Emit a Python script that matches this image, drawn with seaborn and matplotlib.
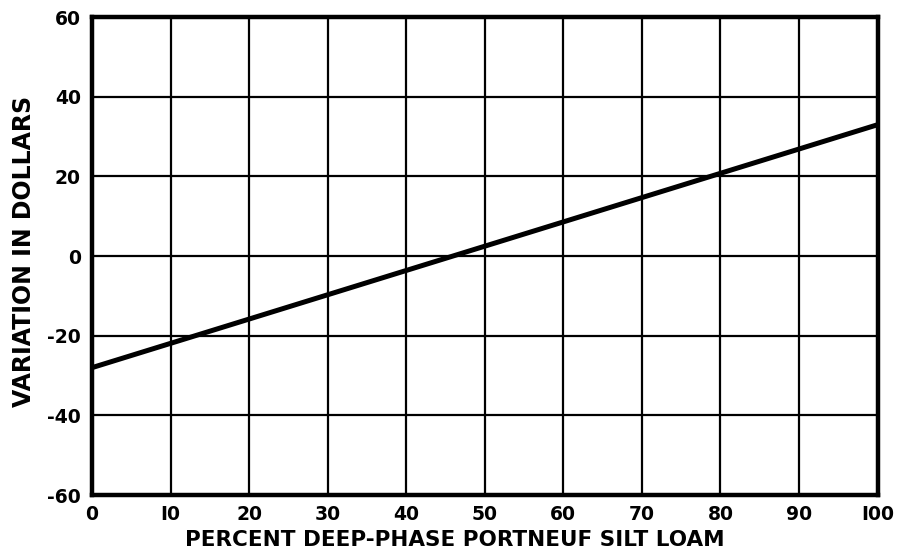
import matplotlib
matplotlib.use("Agg")
import matplotlib.pyplot as plt
import seaborn as sns
import pandas as pd

percent = [0, 100]
variation = [-28, 33]
x_ticks = [0, 10, 20, 30, 40, 50, 60, 70, 80, 90, 100]
x_tick_labels = ["0", "I0", "20", "30", "40", "50", "60", "70", "80", "90", "I00"]
y_ticks = [-60, -40, -20, 0, 20, 40, 60]
y_tick_labels = ["-60", "-40", "-20", "0", "20", "40", "60"]

sns.set_theme(style="white")
plt.rcParams['font.family'] = ['DejaVu Sans']
plt.rcParams['font.weight'] = 'bold'

df = pd.DataFrame({"percent": percent, "variation": variation})

fig = plt.figure(figsize=(9.05, 5.55), dpi=100)
ax = fig.add_axes([0.1017, 0.108, 0.868, 0.861])

sns.lineplot(data=df, x="percent", y="variation", ax=ax, color="black", linewidth=3.6, zorder=3)

ax.set_xlim(0, 100)
ax.set_ylim(-60, 60)
ax.set_xticks(x_ticks)
ax.set_xticklabels(x_tick_labels)
ax.set_yticks(y_ticks)
ax.set_yticklabels(y_tick_labels)
ax.grid(True, color="black", linewidth=1.6)
ax.set_axisbelow(True)
for s in ax.spines.values():
    s.set_color("black")
    s.set_linewidth(3.2)
    s.set_visible(True)
ax.tick_params(axis="both", length=0, labelsize=13.5, colors="black")
ax.tick_params(axis="x", pad=7)
ax.tick_params(axis="y", pad=8)
for lab in ax.get_xticklabels() + ax.get_yticklabels():
    lab.set_fontweight("bold")
ax.set_xlabel("PERCENT DEEP-PHASE PORTNEUF SILT LOAM", fontsize=15.5, fontweight="bold", color="black")
ax.xaxis.set_label_coords(0.462, -0.074)
ax.set_ylabel("VARIATION IN DOLLARS", fontsize=17, fontweight="bold", color="black")
ax.yaxis.set_label_coords(-0.071, 0.51)

fig.savefig("out.png", dpi=100, facecolor="white")
